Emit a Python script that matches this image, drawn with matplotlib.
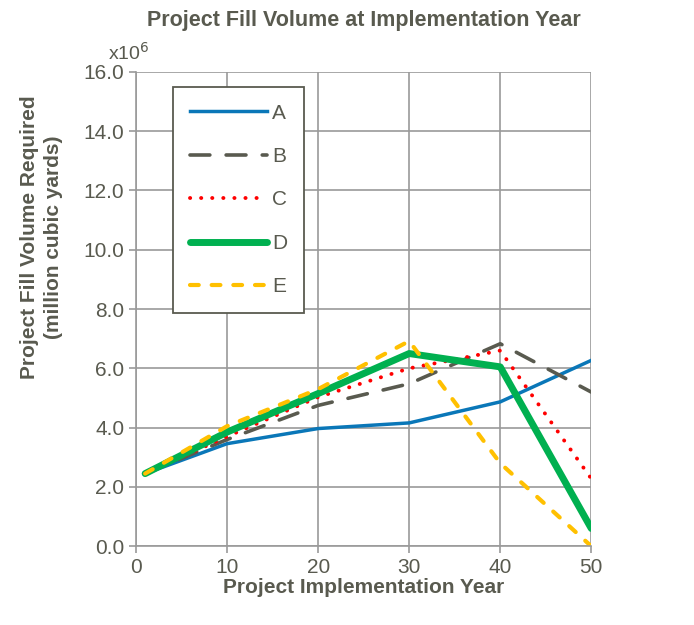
import matplotlib
matplotlib.use("Agg")
import matplotlib.pyplot as plt

plt.rcParams["font.family"] = ["Liberation Sans Narrow", "Liberation Sans", "DejaVu Sans"]

years = [1, 10, 20, 30, 40, 50]
series_a = [2.45, 3.46, 3.97, 4.16, 4.87, 6.27]
series_b = [2.45, 3.6, 4.75, 5.48, 6.83, 5.2]
series_c = [2.45, 3.7, 5.03, 6.0, 6.6, 2.28]
series_d = [2.45, 3.85, 5.15, 6.5, 6.05, 0.6]
series_e = [2.45, 4.05, 5.3, 6.92, 2.8, 0.0]
labels = ["A", "B", "C", "D", "E"]
x_ticks = [0, 10, 20, 30, 40, 50]
y_ticks = [0, 2, 4, 6, 8, 10, 12, 14, 16]

txt = "#595a4f"
grid_c = "#9a9a9a"

fig = plt.figure(figsize=(6.94, 6.25), dpi=100)
ax = fig.add_axes([0.196, 0.126, 0.656, 0.759])

ax.plot(years, series_a, color="#0a77b8", lw=2.5, label=labels[0])
ax.plot(years, series_b, color="#595a4f", lw=2.6, dashes=(5.5, 4.5),
        dash_capstyle="round", label=labels[1])
ax.plot(years, series_c, color="#ff0000", lw=2.8, linestyle=(0, (0.05, 2.8)),
        dash_capstyle="round", label=labels[2])
ax.plot(years, series_d, color="#00b050", lw=5, solid_capstyle="round", label=labels[3])
ax.plot(years, series_e, color="#ffc000", lw=3, dashes=(2.1, 3.1),
        dash_capstyle="round", label=labels[4])

ax.set_xlim(0, 50)
ax.set_ylim(0, 16)
ax.set_xticks(x_ticks)
ax.set_yticks(y_ticks)
ax.set_yticklabels([f"{v:.1f}" for v in y_ticks])
ax.grid(True, color=grid_c, lw=1.2)
ax.set_axisbelow(True)
for s in ["top", "right"]:
    ax.spines[s].set_visible(False)
for s in ["left", "bottom"]:
    ax.spines[s].set_color(grid_c)
    ax.spines[s].set_linewidth(1.2)
ax.tick_params(colors=grid_c, labelcolor=txt, labelsize=15, length=5, width=1.2)

ax.text(-0.062, 1.017, "x10$^{6}$", color=txt, fontsize=14, ha="left", va="bottom",
        transform=ax.transAxes)

ax.set_title("Project Fill Volume at Implementation Year", fontsize=15.5,
             fontweight="bold", color=txt, pad=33)
ax.set_xlabel("Project Implementation Year", fontsize=15, fontweight="bold",
              color=txt, labelpad=1)
ax.set_ylabel("Project Fill Volume Required\n(million cubic yards)", fontsize=15,
              fontweight="bold", color=txt, linespacing=1.35)
ax.yaxis.set_label_coords(-0.16, 0.652)

leg = ax.legend(loc="upper left", bbox_to_anchor=(0.081, 0.968), fontsize=15,
                handlelength=3.7, labelspacing=1.17, borderpad=0.8,
                handletextpad=0.25, fancybox=False, framealpha=1,
                edgecolor="#595a4f", borderaxespad=0)
leg.get_frame().set_linewidth(1.3)
for t in leg.get_texts():
    t.set_color(txt)

fig.savefig("out.png", dpi=100)
